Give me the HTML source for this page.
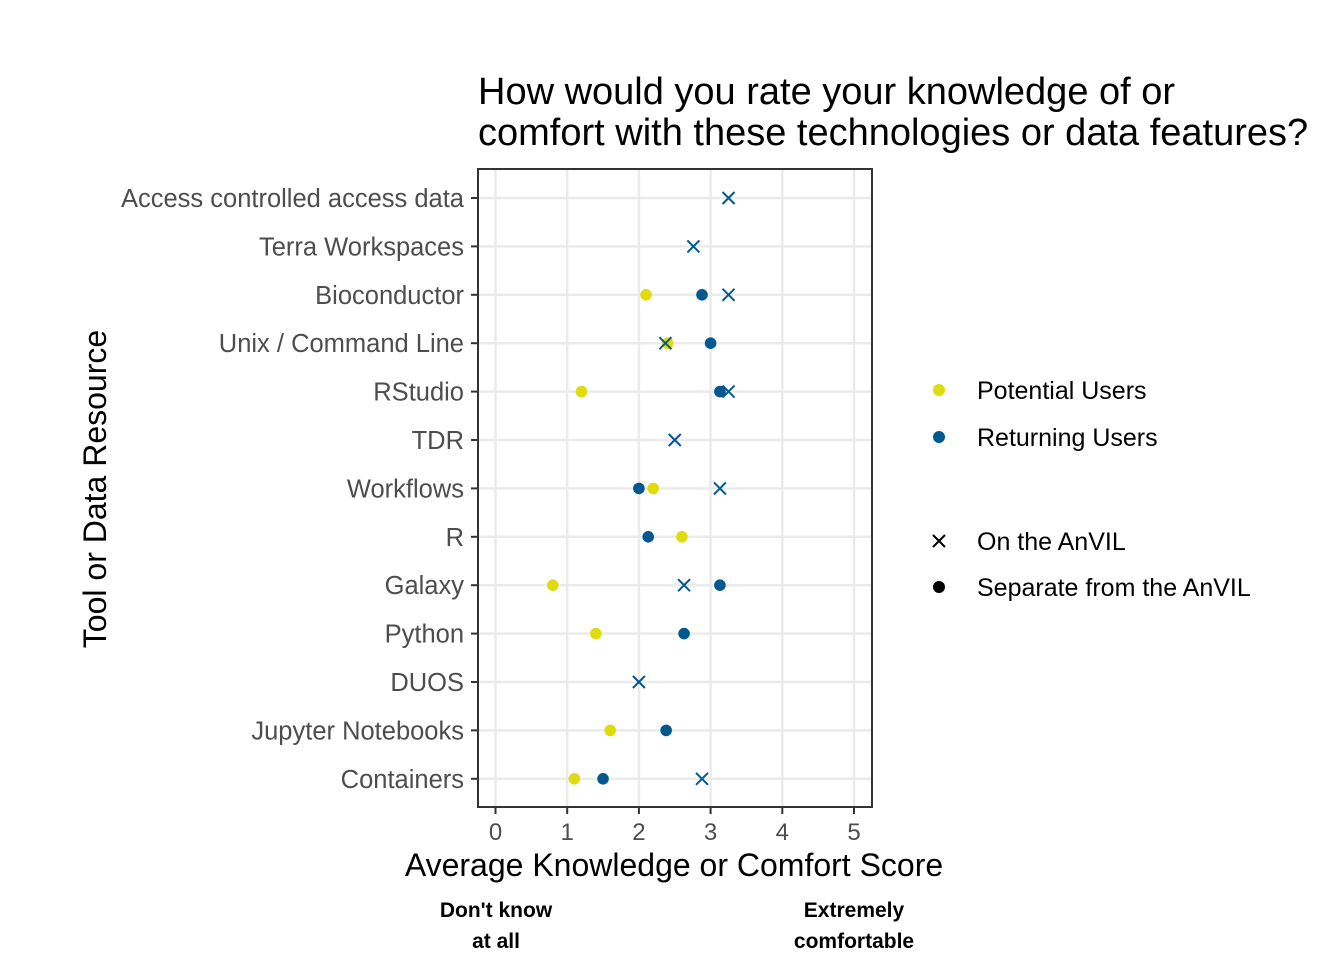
<!DOCTYPE html>
<html><head><meta charset="utf-8"><style>
body{margin:0;background:#fff;width:1344px;height:960px;overflow:hidden}
text{font-family:"Liberation Sans",sans-serif}
</style></head><body>
<svg id="chart" width="1344" height="960">
<text x="478" y="104" font-size="38" fill="#000">How would you rate your knowledge of or</text>
<text x="478" y="145" font-size="38" fill="#000">comfort with these technologies or data features?</text>
<g id="grid"></g>
<g id="marks"></g>
<rect x="478" y="169" width="394" height="638" fill="none" stroke="#333" stroke-width="2"/>
<g id="axes"></g>
<text x="674" y="876" font-size="32" text-anchor="middle">Average Knowledge or Comfort Score</text>
<text transform="translate(106,489) rotate(-90)" font-size="32" text-anchor="middle">Tool or Data Resource</text>
<g font-size="21" font-weight="bold" text-anchor="middle">
<text x="496" y="917">Don't know</text><text x="496" y="948">at all</text>
<text x="854" y="917">Extremely</text><text x="854" y="948">comfortable</text>
</g>
<g font-size="25">
<circle cx="939" cy="390" r="6" fill="#DFDB0D"/>
<text x="977" y="399">Potential Users</text>
<circle cx="939" cy="437" r="6" fill="#02598F"/>
<text x="977" y="446">Returning Users</text>
<path d="M933,535 l12,12 M945,535 l-12,12" stroke="#000" stroke-width="2"/>
<text x="977" y="550">On the AnVIL</text>
<circle cx="939" cy="587" r="6" fill="#000"/>
<text x="977" y="596">Separate from the AnVIL</text>
</g>
</svg>
<script>
const categories=["Access controlled access data","Terra Workspaces","Bioconductor","Unix / Command Line","RStudio","TDR","Workflows","R","Galaxy","Python","DUOS","Jupyter Notebooks","Containers"];
const potentialSeparate=[null,null,2.10,2.40,1.20,null,2.20,2.60,0.80,1.40,null,1.60,1.10];
const returningSeparate=[null,null,2.88,3.00,3.13,null,2.00,2.13,3.13,2.63,null,2.38,1.50];
const returningOnAnvil=[3.25,2.76,3.25,2.37,3.25,2.50,3.13,null,2.63,null,2.00,null,2.88];
const xTicks=[0,1,2,3,4,5];
const NS="http://www.w3.org/2000/svg";
const xs=v=>495.5+v*71.7;
const ys=i=>198+i*48.4;
function mk(tag,attrs,parent){const e=document.createElementNS(NS,tag);for(const k in attrs)e.setAttribute(k,attrs[k]);parent.appendChild(e);return e;}
const grid=document.getElementById('grid'),marks=document.getElementById('marks'),axes=document.getElementById('axes');
xTicks.forEach(t=>{
 const l=mk('line',{x1:xs(t),x2:xs(t),y1:169,y2:807,stroke:'#ebebeb','stroke-width':2.5},grid);
 
 
 const tk=mk('line',{x1:xs(t),x2:xs(t),y1:807,y2:814,stroke:'#333','stroke-width':2},axes);
 
 
 const tx=mk('text',{x:xs(t),y:840,'font-size':24,'text-anchor':'middle',fill:'#4d4d4d'},axes);tx.textContent=t;
 
 
});
categories.forEach((c,i)=>{
 const l=mk('line',{x1:478,x2:872,y1:ys(i),y2:ys(i),stroke:'#ebebeb','stroke-width':2.5},grid);
 
 
 const tk=mk('line',{x1:471,x2:478,y1:ys(i),y2:ys(i),stroke:'#333','stroke-width':2},axes);
 
 
 const tx=mk('text',{x:464,y:ys(i)+9,'font-size':25.5,'text-anchor':'end',fill:'#4d4d4d'},axes);tx.textContent=c;
 
 
});
function dots(arr,color,name){arr.forEach((v,i)=>{if(v==null)return;
 const d=mk('circle',{cx:xs(v),cy:ys(i),r:5.8,fill:color},marks);
 
 });}
dots(potentialSeparate,'#DFDB0D','potential-separate-point');
dots(returningSeparate,'#02598F','returning-separate-point');
returningOnAnvil.forEach((v,i)=>{if(v==null)return;const x=xs(v),y=ys(i);
 const p=mk('path',{d:`M${x-6},${y-6} L${x+6},${y+6} M${x+6},${y-6} L${x-6},${y+6}`,stroke:'#02598F','stroke-width':2},marks);
 
 });
</script>
</body></html>
